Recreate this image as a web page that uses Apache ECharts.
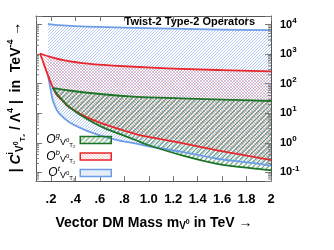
<!DOCTYPE html>
<html><head><meta charset="utf-8">
<script src="https://cdn.jsdelivr.net/npm/echarts@6/dist/echarts.min.js"></script>
<style>html,body{margin:0;padding:0;background:#fff}#c{width:334px;height:250px}</style>
</head><body><div id="c"></div>
<script>
// ---- tick labels ----
const xTickValues = [0.2, 0.4, 0.6, 0.8, 1.0, 1.2, 1.4, 1.6, 1.8, 2.0];
const xTickText = ['.2', '.4', '.6', '.8', '1.0', '1.2', '1.4', '1.6', '1.8', '2'];
const yTickExponents = [-1, 0, 1, 2, 3, 4];
const xRange = [0.077, 2.0];
const yRange = [0.0513, 19500];

// ---- data: [mass in TeV, |C/Lambda^4| in TeV^-4] ----
const otUpper = [[0.175, 10470], [0.3, 9330], [0.5, 8510], [0.8, 7940], [1.2, 7240], [1.6, 6760], [2.0, 6460]];
const otLower = [[0.175, 204], [0.19, 89], [0.214, 28], [0.24, 15], [0.27, 9.5], [0.35, 5.0], [0.49, 2.6], [0.62, 1.7], [0.76, 1.2], [0.9, 0.95], [1.0, 0.76], [1.28, 0.49], [1.56, 0.29], [1.8, 0.22], [2.0, 0.17]];
const obUpper = [[0.11, 1047], [0.2, 794], [0.3, 631], [0.5, 479], [0.8, 389], [1.2, 324], [1.6, 288], [2.0, 263]];
const obLower = [[0.11, 1047], [0.13, 631], [0.16, 282], [0.2, 105], [0.24, 46], [0.3, 25], [0.35, 16], [0.49, 7.4], [0.62, 4.5], [0.76, 2.9], [0.9, 1.95], [1.0, 1.58], [1.26, 1.0], [1.56, 0.56], [1.8, 0.37], [2.0, 0.26]];
const ogUpper = [[0.214, 72], [0.35, 59], [0.62, 44], [0.9, 36], [1.26, 32], [1.6, 29], [2.0, 26]];
const ogLower = [[0.214, 72], [0.25, 45], [0.3, 26], [0.35, 16], [0.49, 6.5], [0.62, 3.4], [0.76, 2.0], [0.9, 1.2], [1.0, 0.83], [1.28, 0.37], [1.56, 0.195], [1.8, 0.145], [2.0, 0.117]];

const seriesNames = ['Og', 'Ob', 'Ot'];
const legendSup = { Og: 'g', Ob: 'b', Ot: 't' };
const titleText = 'Twist-2 Type-2 Operators';

const FONT = '"Liberation Sans", Arial, Helvetica, sans-serif';
const C_BLUE = '#6e9de8', C_RED = '#e8262b', C_GREEN = '#1b7326';

function hatch(color, dir, size, width) {
  const c = document.createElement('canvas');
  c.width = size; c.height = size;
  const g = c.getContext('2d');
  g.strokeStyle = color; g.lineWidth = width;
  g.beginPath();
  for (let k = -1; k <= 1; k++) {
    const o = k * size;
    if (dir > 0) { g.moveTo(o, size); g.lineTo(o + size, 0); }
    else { g.moveTo(o, 0); g.lineTo(o + size, size); }
  }
  g.stroke();
  return { image: c, repeat: 'repeat' };
}
const patBlue = hatch('rgba(120,160,235,0.7)', 1, 3, 0.8);
const patRed = hatch('rgba(235,110,120,0.6)', -1, 3, 0.8);
const patGreen = hatch('rgba(40,120,55,0.6)', 1, 5, 1.4);

function smoothD(pts, start) {
  let d = (start ? 'M' : 'L') + pts[0][0] + ' ' + pts[0][1];
  for (let i = 0; i < pts.length - 1; i++) {
    const p0 = pts[i - 1] || pts[i], p1 = pts[i], p2 = pts[i + 1], p3 = pts[i + 2] || pts[i + 1];
    const c1 = [p1[0] + (p2[0] - p0[0]) / 6, p1[1] + (p2[1] - p0[1]) / 6];
    const c2 = [p2[0] - (p3[0] - p1[0]) / 6, p2[1] - (p3[1] - p1[1]) / 6];
    d += ' C' + c1[0] + ' ' + c1[1] + ' ' + c2[0] + ' ' + c2[1] + ' ' + p2[0] + ' ' + p2[1];
  }
  return d;
}

function bandSeries(name, upper, lower, pattern, lineColor) {
  return {
    type: 'custom', name: name, coordinateSystem: 'cartesian2d', xAxisIndex: 0, yAxisIndex: 0,
    data: [[1, 1]], silent: true, itemStyle: { color: lineColor },
    renderItem: function (params, api) {
      const U = upper.map(p => api.coord(p));
      const L = lower.map(p => api.coord(p));
      const fillD = smoothD(U, true) + ' ' + smoothD(L.slice().reverse(), false) + ' Z';
      return {
        type: 'group', children: [
          { type: 'path', z2: 0, shape: { pathData: fillD }, style: { fill: pattern, stroke: 'none' } },
          { type: 'path', z2: 10, shape: { pathData: smoothD(U, true) }, style: { fill: 'none', stroke: lineColor, lineWidth: 1.8 } },
          { type: 'path', z2: 10, shape: { pathData: smoothD(L, true) }, style: { fill: 'none', stroke: lineColor, lineWidth: 1.8 } }
        ]
      };
    }
  };
}

// log minor tick positions
const yMinor = [];
for (let e = -2; e <= 4; e++) for (let k = 2; k <= 9; k++) {
  const v = k * Math.pow(10, e);
  if (v > yRange[0] && v < yRange[1]) yMinor.push(v);
}
const minorSeries = {
  type: 'custom', coordinateSystem: 'cartesian2d', data: [[1, 1]], silent: true, z: 5,
  renderItem: function (params, api) {
    const ch = [];
    yMinor.forEach(v => {
      const a = api.coord([xRange[0], v]), b = api.coord([xRange[1], v]);
      ch.push({ type: 'line', shape: { x1: a[0], y1: a[1], x2: a[0] + 3, y2: a[1] }, style: { stroke: '#777', lineWidth: 1 } });
      ch.push({ type: 'line', shape: { x1: b[0] - 3, y1: b[1], x2: b[0], y2: b[1] }, style: { stroke: '#777', lineWidth: 1 } });
    });
    return { type: 'group', children: ch };
  }
};

function fmtX(v) {
  for (let i = 0; i < xTickValues.length; i++) if (Math.abs(v - xTickValues[i]) < 1e-6) return xTickText[i];
  return '';
}
function fmtY(v) {
  const l = Math.log10(v), e = Math.round(l);
  if (Math.abs(l - e) > 1e-6 || yTickExponents.indexOf(e) < 0) return '';
  return '{b|10}{e|' + e + '}';
}

// rich-text helper: token shifted up (dy<0) or down (dy>0) by padding
function tok(size, lh, dy, extra) {
  const s = Object.assign({ fontFamily: FONT, fontSize: size, color: '#000', fill: '#000', lineHeight: lh, verticalAlign: 'middle',
    padding: dy < 0 ? [0, 0, -2 * dy, 0] : [2 * dy, 0, 0, 0] }, extra || {});
  return s;
}

const legendRich = {
  o: tok(12, 14, 0, { fontStyle: 'italic' }),
  sp: tok(8, 14, -4, { fontStyle: 'italic' }),
  v: tok(9, 14, 3),
  z: tok(6, 14, 0),
  t: tok(6, 14, 5)
};
function legendText(n) { return '{o|O}{sp|' + legendSup[n] + '}{v|V}{z|0}{t|T₂}'; }

const xTitleRich = {
  n: tok(14, 18, 0, { fontWeight: 'bold' }),
  v: tok(10, 18, 3, { fontWeight: 'bold' }),
  z: tok(7, 18, -1, { fontWeight: 'bold' })
};
const yTitleRich = {
  n: tok(14, 20, 0, { fontWeight: 'bold' }),
  c: tok(14, 20, 0, { fontWeight: 'bold', fontStyle: 'italic' }),
  sp: tok(9, 20, -5, { fontWeight: 'bold' }),
  v: tok(10, 20, 4, { fontWeight: 'bold' }),
  z: tok(7, 20, 0, { fontWeight: 'bold' }),
  t: tok(7, 20, 7, { fontWeight: 'bold' })
};

const axisLineStyle = { show: true, lineStyle: { color: '#555', width: 1 } };

const option = {
  animation: false,
  backgroundColor: '#fff',
  grid: { left: 36, right: 63, top: 16, bottom: 69, containLabel: false, outerBoundsMode: 'none' },
  xAxis: [
    { type: 'value', position: 'bottom', min: xRange[0], max: xRange[1], splitNumber: 10,
      axisLine: axisLineStyle, splitLine: { show: false },
      axisTick: { show: true, inside: true, length: 5, lineStyle: { color: '#777' } },
      axisLabel: { show: true, margin: 12, fontFamily: FONT, fontSize: 13, fontWeight: 'bold', color: '#000', showMinLabel: false, showMaxLabel: true, formatter: fmtX } },
    { type: 'value', position: 'top', min: xRange[0], max: xRange[1], splitNumber: 10,
      axisLine: axisLineStyle, splitLine: { show: false },
      axisTick: { show: true, inside: true, length: 5, lineStyle: { color: '#777' } },
      axisLabel: { show: false } }
  ],
  yAxis: [
    { type: 'log', logBase: 10, position: 'left', min: yRange[0], max: yRange[1],
      axisLine: axisLineStyle, splitLine: { show: false },
      axisTick: { show: true, inside: true, length: 6, lineStyle: { color: '#777' } },
      axisLabel: { show: false } },
    { type: 'log', logBase: 10, position: 'right', min: yRange[0], max: yRange[1],
      axisLine: axisLineStyle, splitLine: { show: false },
      axisTick: { show: true, inside: true, length: 6, lineStyle: { color: '#777' } },
      axisLabel: { show: true, margin: 9, formatter: fmtY, showMinLabel: true, showMaxLabel: true,
        rich: {
          b: tok(11, 16, 0, { fontWeight: 'bold' }),
          e: tok(8, 16, -4, { fontWeight: 'bold' })
        } } }
  ],
  legend: {
    orient: 'vertical', right: 222, top: 132, padding: 0, itemGap: 0.5, itemWidth: 31, itemHeight: 7,
    align: 'right', selectedMode: false,
    data: [
      { name: 'Og', icon: 'rect', itemStyle: { color: patGreen, borderColor: C_GREEN, borderWidth: 1.5 } },
      { name: 'Ob', icon: 'rect', itemStyle: { color: patRed, borderColor: C_RED, borderWidth: 1.5 } },
      { name: 'Ot', icon: 'rect', itemStyle: { color: patBlue, borderColor: C_BLUE, borderWidth: 1.5 } }
    ],
    formatter: legendText,
    textStyle: { fontFamily: FONT, color: '#000', rich: legendRich }
  },
  graphic: [
    { type: 'text', x: 255, y: 22, z: 100, style: { text: titleText, align: 'right', verticalAlign: 'middle', fontFamily: FONT, fontSize: 11, fontWeight: 'bold', fill: '#000' } },
    { type: 'text', x: 154, y: 223, z: 100, style: {
        text: '{n|Vector DM Mass m}{v|V}{z|0}{n| in TeV →}', align: 'center', verticalAlign: 'middle', rich: xTitleRich } },
    { type: 'text', x: 16, y: 97, rotation: Math.PI / 2, z: 100, style: {
        text: '{n|| }{c|C}{sp|i}{v|V}{z|0}{t|T₂}{n| / Λ}{sp|4}{n| |  in  TeV}{sp|-4}{n| →}', align: 'center', verticalAlign: 'middle', rich: yTitleRich } }
  ],
  series: [
    bandSeries('Ot', otUpper, otLower, patBlue, C_BLUE),
    bandSeries('Ob', obUpper, obLower, patRed, C_RED),
    bandSeries('Og', ogUpper, ogLower, patGreen, C_GREEN),
    minorSeries
  ]
};
const chart = echarts.init(document.getElementById('c'));
chart.setOption(option);
</script></body></html>
